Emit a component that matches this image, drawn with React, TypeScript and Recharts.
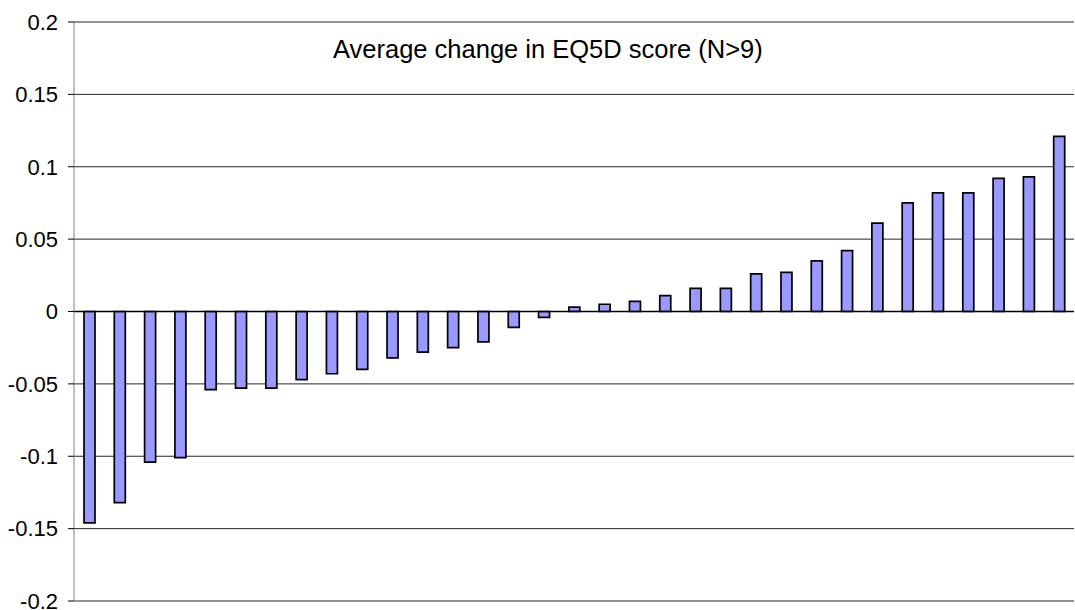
import React from 'react';
import { BarChart, Bar, XAxis, YAxis, CartesianGrid, ReferenceLine } from 'recharts';

// one entry per group, sorted from largest drop to largest gain
const groups = Array.from({ length: 33 }, (_, i) => `G${i + 1}`);
const changes = [
  -0.146, -0.132, -0.104, -0.101, -0.054, -0.053, -0.053, -0.047, -0.043, -0.04, -0.032,
  -0.028, -0.025, -0.021, -0.011, -0.004, 0.003, 0.005, 0.007, 0.011, 0.016, 0.016,
  0.026, 0.027, 0.035, 0.042, 0.061, 0.075, 0.082, 0.082, 0.092, 0.093, 0.121,
];
const yTicks = [-0.2, -0.15, -0.1, -0.05, 0, 0.05, 0.1, 0.15, 0.2];
const title = 'Average change in EQ5D score (N>9)';

const data = groups.map((name, i) => ({ name, change: changes[i] }));

const font = '"Liberation Sans", Arial, sans-serif';

export default function App() {
  return (
    <div style={{ position: 'absolute', left: 0, top: 0, width: 1075, height: 610, background: '#fff', fontFamily: font }}>
      <BarChart
        width={1075}
        height={610}
        data={data}
        margin={{ top: 22, right: 1, bottom: 9, left: 0 }}
        barSize={11}
      >
        <CartesianGrid vertical={false} stroke="#000" strokeOpacity={0.85} />
        <XAxis dataKey="name" hide />
        <YAxis
          width={74}
          domain={[-0.2, 0.2]}
          ticks={yTicks}
          interval={0}
          tickSize={6}
          tickMargin={10}
          axisLine={{ stroke: '#808080' }}
          tickLine={{ stroke: '#000' }}
          tick={{ fill: '#000', fontSize: 22, fontFamily: font }}
        />
        <ReferenceLine y={0} stroke="#000" strokeWidth={1.5} />
        <Bar dataKey="change" fill="#9999FF" stroke="#000" strokeWidth={1.7} isAnimationActive={false} />
      </BarChart>
      <div
        style={{
          position: 'absolute',
          left: 333,
          top: 35,
          whiteSpace: 'nowrap',
          fontSize: 25.5,
          color: '#000',
        }}
      >
        {title}
      </div>
    </div>
  );
}
